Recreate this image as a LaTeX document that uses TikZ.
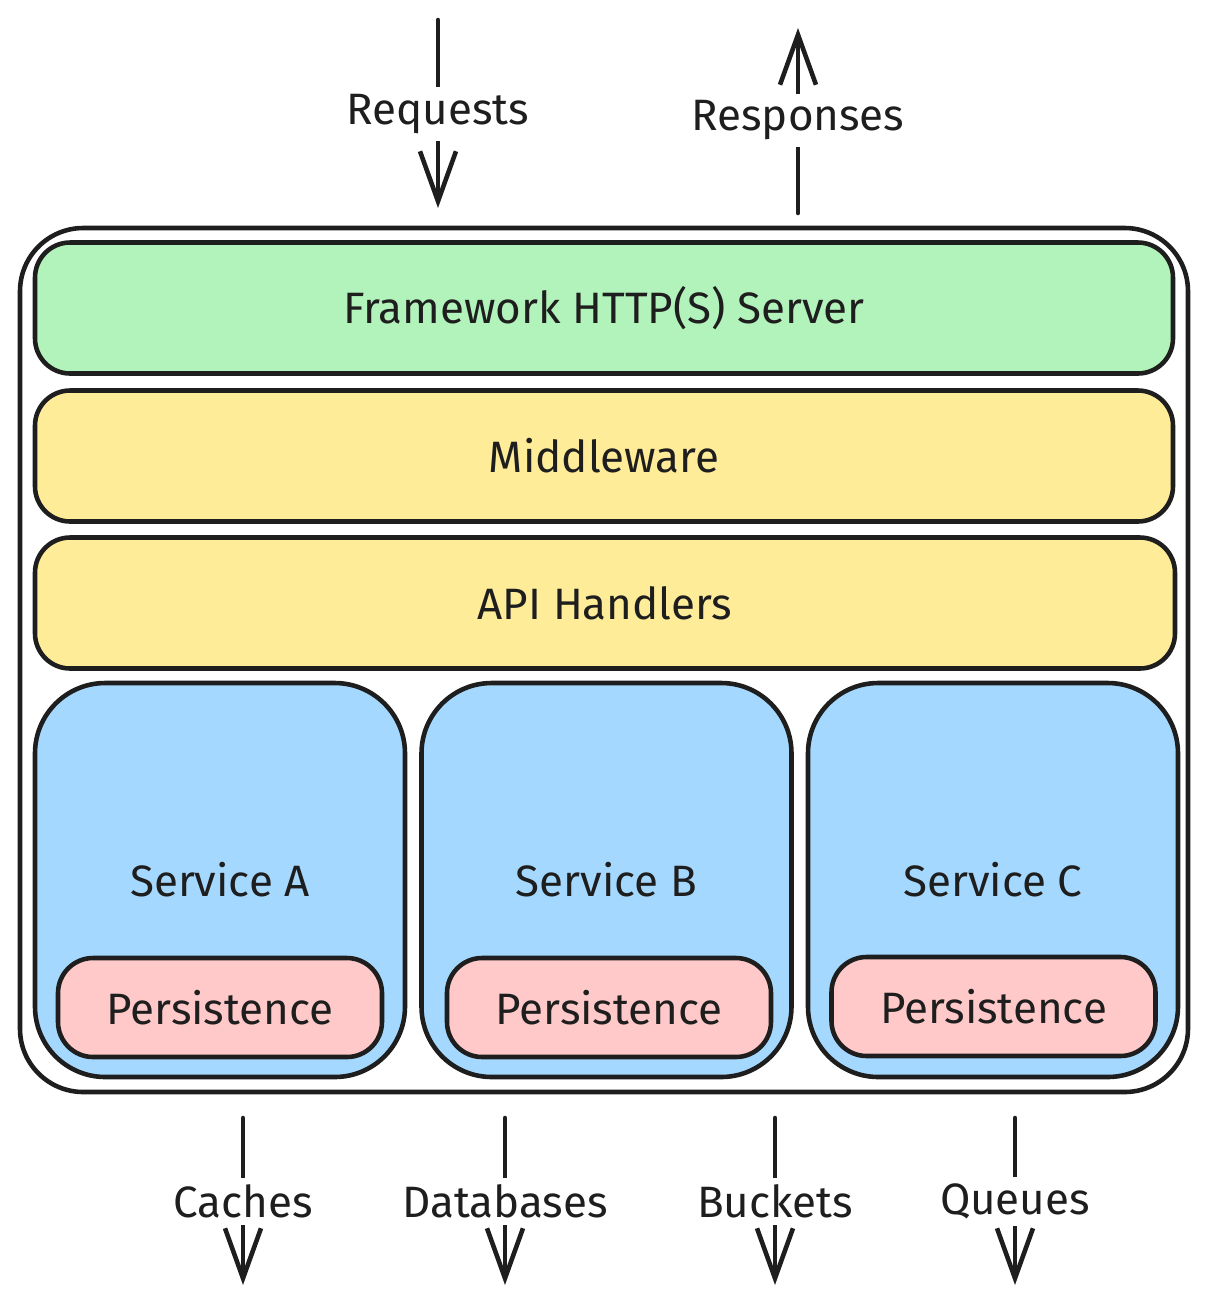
\documentclass[tikz,border=0pt]{standalone}
\usepackage{fontspec}
\setmainfont{Fira Sans}
\usetikzlibrary{arrows.meta}
\definecolor{inkdark}{HTML}{1E1E1E}
\definecolor{servergreen}{HTML}{B2F2BB}
\definecolor{layeryellow}{HTML}{FFEC99}
\definecolor{serviceblue}{HTML}{A5D8FF}
\definecolor{storepink}{HTML}{FFC9C9}

\begin{document}
\begin{tikzpicture}[
    layer/.style={draw=inkdark, line width=1.3pt, rounded corners=10pt,
                  minimum height=1.31cm, minimum width=11.38cm,
                  font=\fontsize{12.5}{15}\selectfont, text=inkdark, align=center},
    service/.style={layer, fill=serviceblue, rounded corners=20pt,
                    minimum width=3.70cm, minimum height=3.94cm},
    store/.style={layer, fill=storepink, minimum width=3.24cm, minimum height=0.99cm},
    flow/.style={draw=inkdark, line width=1.3pt, line cap=round,
                 -{Straight Barb[length=5mm,width=3.6mm]}},
    flowlabel/.style={fill=white, inner sep=2pt, text=inkdark,
                      font=\fontsize{12.5}{15}\selectfont},
]
\useasboundingbox (0,0) rectangle (12.08,-13.04);

\node[draw=inkdark, line width=1.3pt, rounded corners=18pt,
      minimum width=11.68cm, minimum height=8.64cm] (app) at (6.04,-6.60) {};

\node[layer, fill=servergreen] (server) at (6.04,-3.08) {Framework HTTP(S) Server};
\node[layer, fill=layeryellow] (middleware) at (6.04,-4.56) {Middleware};
\node[layer, fill=layeryellow, minimum width=11.40cm] (handlers) at (6.05,-6.03)
    {API Handlers};

\node[service] (svcA) at (2.20,-8.80) {Service A};
\node[service] (svcB) at (6.065,-8.80) {Service B};
\node[service] (svcC) at (9.93,-8.80) {Service C};

\node[store] (storeA) at (2.20,-10.075) {Persistence};
\node[store] (storeB) at (6.09,-10.075) {Persistence};
\node[store] (storeC) at (9.935,-10.065) {Persistence};

% traffic in and out
\coordinate (req-top) at (4.38,-0.20);
\coordinate (req-end) at (4.38,-2.08);
\coordinate (resp-top) at (7.98,-0.28);
\coordinate (resp-end) at (7.98,-2.13);
\draw[flow] (req-top) -- node[flowlabel] (reqlbl) {Requests} (req-end);
\draw[flow] (resp-end) -- node[flowlabel] (resplbl) {Responses} (resp-top);

% backing stores
\foreach \name/\x in {Caches/2.43, Databases/5.05, Buckets/7.75, Queues/10.15} {
    \coordinate (\name-top) at (\x,-11.18);
    \coordinate (\name-end) at (\x,-12.85);
    \draw[flow] (\name-top) -- node[flowlabel] {\name} (\name-end);
}
\end{tikzpicture}
\end{document}
